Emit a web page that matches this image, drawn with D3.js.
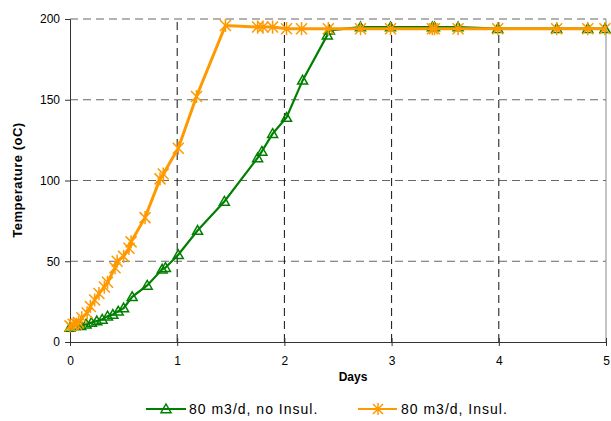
<!DOCTYPE html>
<html>
<head>
<meta charset="utf-8">
<script src="https://cdn.jsdelivr.net/npm/d3@7/dist/d3.min.js"></script>
<style>
  body { margin: 0; background: #fff; }
  text { font-family: "Liberation Sans", Arial, sans-serif; }
</style>
</head>
<body>
<svg id="chart"></svg>
<script>
let svgWidth = 611, svgHeight = 421

// data
let noInsulDays = [0, 0.05, 0.1, 0.15, 0.2, 0.25, 0.3, 0.35, 0.4, 0.45, 0.5, 0.58, 0.72, 0.86, 0.89, 1.01, 1.19, 1.44, 1.75, 1.79, 1.89, 2.02, 2.17, 2.4, 2.42, 2.71, 2.99, 3.38, 3.4, 3.62, 3.99, 4.54, 4.83, 4.99]
let noInsulTemp = [9, 10, 10, 11, 12, 13, 14, 16, 17, 19, 21, 28, 35, 45, 46, 54, 69, 87, 114, 118, 129, 139, 162, 190, 193, 195, 195, 195, 195, 195, 194, 194, 194, 194]
let insulDays = [0, 0.03, 0.06, 0.08, 0.11, 0.16, 0.19, 0.23, 0.27, 0.32, 0.35, 0.42, 0.44, 0.5, 0.55, 0.57, 0.7, 0.84, 0.87, 1.01, 1.18, 1.45, 1.75, 1.8, 1.89, 2.02, 2.16, 2.41, 2.71, 2.99, 3.38, 3.4, 3.62, 3.99, 4.54, 4.83, 4.99]
let insulTemp = [10, 11, 11, 12, 15, 18, 22, 26, 30, 34, 37, 46, 50, 53, 58, 62, 77, 101, 104, 120, 152, 196, 195, 195, 195, 194, 194, 194, 194, 194, 194, 194, 194, 194, 194, 194, 194]
let xTicks = [0, 1, 2, 3, 4, 5]
let yTicks = [0, 50, 100, 150, 200]
let seriesNames = ['80 m3/d, no Insul.', '80 m3/d, Insul.']

const green = '#008000', orange = '#ff9900'

let svg = d3.select('#chart').attr('width', svgWidth).attr('height', svgHeight)
let margin = { left: 70, right: 5, top: 19, bottom: 79 }

let x = d3.scaleLinear().domain([0, 5]).range([margin.left, svgWidth - margin.right])
let y = d3.scaleLinear().domain([0, 200]).range([svgHeight - margin.bottom, margin.top])

// grid
let grid = svg.append('g')
grid.selectAll('line.h').data(yTicks.filter(d => d > 0)).enter().append('line')
  .attr('x1', x(0)).attr('x2', x(5)).attr('y1', d => y(d)).attr('y2', d => y(d))
  .attr('stroke', '#666').attr('stroke-dasharray', '8,5')
grid.selectAll('line.v').data(xTicks.filter(d => d > 0 && d < 5)).enter().append('line')
  .attr('x1', d => x(d)).attr('x2', d => x(d)).attr('y1', y(0)).attr('y2', y(200))
  .attr('stroke', '#111').attr('stroke-dasharray', '8,5')
grid.append('line').attr('x1', x(5)).attr('x2', x(5)).attr('y1', y(0)).attr('y2', y(200))
  .attr('stroke', '#888')

// axes
let xAxis = svg.append('g').attr('transform', `translate(0,${y(0)})`)
  .call(d3.axisBottom(x).tickValues(xTicks).tickSize(4).tickPadding(10).tickFormat(d3.format('d')))
xAxis.select('.domain').attr('stroke', '#333')
xAxis.selectAll('.tick line').attr('y1', -4).attr('stroke', '#333')
xAxis.selectAll('text').style('font-size', '12px').attr('fill', '#000')

let yAxis = svg.append('g').attr('transform', `translate(${x(0)},0)`)
  .call(d3.axisLeft(y).tickValues(yTicks).tickSize(5).tickPadding(5))
yAxis.select('.domain').attr('stroke', '#333')
yAxis.selectAll('.tick line').attr('stroke', '#333')
yAxis.selectAll('text').style('font-size', '12px').attr('fill', '#000')

svg.append('text').attr('x', 353).attr('y', 381).attr('text-anchor', 'middle')
  .style('font-size', '12px').style('font-weight', 'bold').text('Days')
svg.append('text').attr('transform', 'translate(22,180) rotate(-90)').attr('text-anchor', 'middle')
  .style('font-size', '13px').style('font-weight', 'bold').style('letter-spacing', '0.5px').text('Temperature (oC)')

// marker helpers
const triPath = (cx, cy, s) => `M${cx},${cy - s}L${cx + s},${cy + s * 0.75}L${cx - s},${cy + s * 0.75}Z`
const starPath = (cx, cy, s) => `M${cx - s},${cy - s}L${cx + s},${cy + s}M${cx - s},${cy + s}L${cx + s},${cy - s}M${cx},${cy - s * 1.2}L${cx},${cy + s * 1.2}`

let line = d3.line().x(d => x(d[0])).y(d => y(d[1]))
let noInsul = noInsulDays.map((d, i) => [d, noInsulTemp[i]])
let insul = insulDays.map((d, i) => [d, insulTemp[i]])

let plot = svg.append('g')
plot.append('path').datum(noInsul).attr('d', line).attr('fill', 'none')
  .attr('stroke', green).attr('stroke-width', 2.2)
plot.selectAll('path.tri').data(noInsul).enter().append('path')
  .attr('d', d => triPath(x(d[0]), y(d[1]), 5)).attr('stroke', green).attr('stroke-width', 1.5).attr('fill', 'none')
plot.append('path').datum(insul).attr('d', line).attr('fill', 'none')
  .attr('stroke', orange).attr('stroke-width', 3)
plot.selectAll('path.star').data(insul).enter().append('path')
  .attr('d', d => starPath(x(d[0]), y(d[1]), 5.5)).attr('stroke', orange).attr('stroke-width', 1.5).attr('fill', 'none')

// legend
let legend = svg.append('g')
let lg1 = legend.append('g')
lg1.append('line').attr('x1', 146).attr('x2', 186).attr('y1', 409).attr('y2', 409).attr('stroke', green).attr('stroke-width', 2)
lg1.append('path').attr('d', triPath(166, 409, 5)).attr('stroke', green).attr('stroke-width', 1.5).attr('fill', 'none')
lg1.append('text').attr('x', 189).attr('y', 414).style('font-size', '14px').style('letter-spacing', '1px').text(seriesNames[0])
let lg2 = legend.append('g')
lg2.append('line').attr('x1', 358).attr('x2', 397).attr('y1', 409).attr('y2', 409).attr('stroke', orange).attr('stroke-width', 2)
lg2.append('path').attr('d', starPath(378, 409, 5)).attr('stroke', orange).attr('stroke-width', 1.5).attr('fill', 'none')
lg2.append('text').attr('x', 401).attr('y', 414).style('font-size', '14px').style('letter-spacing', '1px').text(seriesNames[1])
</script>
</body>
</html>
